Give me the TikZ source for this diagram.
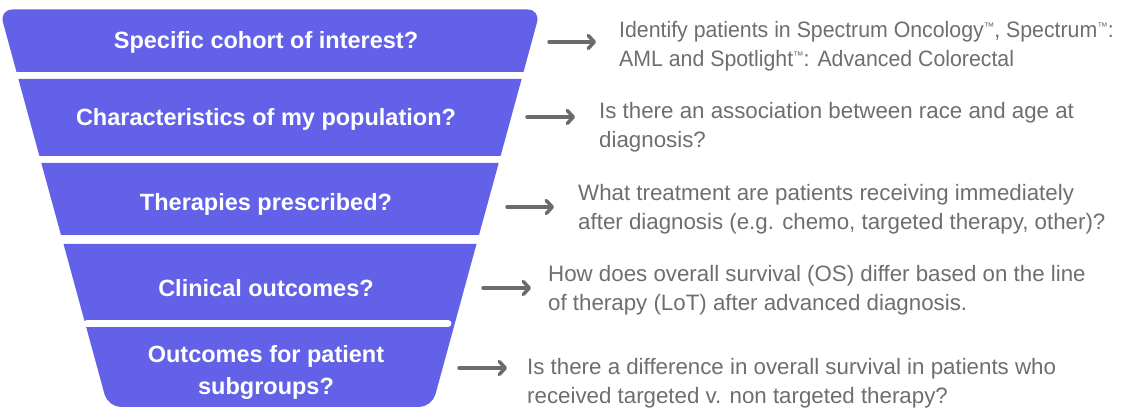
\documentclass[tikz,border=0pt]{standalone}
\usepackage{fontspec}
\setmainfont{Liberation Sans}
\usetikzlibrary{arrows.meta}
\definecolor{funnel}{RGB}{98,97,232}
\definecolor{txtgray}{RGB}{110,110,110}
\definecolor{arrgray}{RGB}{107,107,107}
\newcommand\tmk{\raisebox{7pt}{\fontsize{11pt}{11pt}\selectfont ™}}
\begin{document}
\begin{tikzpicture}[x=1pt,y=-1pt,
  band/.style={fill=funnel},
  lbl/.style={text=white, font=\fontsize{23.5pt}{32pt}\selectfont\bfseries, align=center, inner sep=0pt, anchor=base},
  desc/.style={text=txtgray, font=\fontsize{22.3pt}{29.5pt}\selectfont, align=left, inner sep=0pt, anchor=base west},
  arr/.style={draw=arrgray, line width=3.5pt, line cap=round, -{Straight Barb[length=6pt,width=13pt,round]}}]
\useasboundingbox (0,0) rectangle (1125,411);
% funnel bands
\fill[band] (16.5,72) [rounded corners=13pt] -- (-0.5,9.5) -- (540.5,9.5) [sharp corners] -- (523.5,72) -- cycle;
\fill[band] (18.4,79) -- (521.6,79) -- (500.6,156) -- (39.4,156) -- cycle;
\fill[band] (41.3,163) -- (498.7,163) -- (479.0,235) -- (61.0,235) -- cycle;
\fill[band] (476.5,244) [rounded corners=13pt] -- (432,407) -- (108,407) [sharp corners] -- (63.5,244) -- cycle;
\coordinate (b1) at (87,323.5);
\coordinate (b2) at (448,323.5);
\draw[white, line width=7pt, line cap=round] (b1) -- (b2);
% funnel labels (base = baseline of last line)
\node[lbl] (l1) at (266,48.5) {Specific cohort of interest?};
\node[lbl] (l2) at (266,125.5) {Characteristics of my population?};
\node[lbl] (l3) at (266,210.5) {Therapies prescribed?};
\node[lbl] (l4) at (266,296.5) {Clinical outcomes?};
\node[lbl] (l5) at (266,395) {Outcomes for patient\\subgroups?};
% descriptions
\node[desc, font=\fontsize{22.3pt}{29.5pt}\selectfont\addfontfeature{FakeStretch=0.955}] (t1) at (619,67) {Identify patients in Spectrum Oncology\tmk, Spectrum\tmk:\\AML and Spotlight\tmk: Advanced Colorectal};
\node[desc] (t2) at (599,148) {Is there an association between race and age at\\diagnosis?};
\node[desc] (t3) at (578,230) {What treatment are patients receiving immediately\\after diagnosis (e.g. chemo, targeted therapy, other)?};
\node[desc] (t4) at (548,311) {How does overall survival (OS) differ based on the line\\of therapy (LoT) after advanced diagnosis.};
\node[desc] (t5) at (527,404) {Is there a difference in overall survival in patients who\\received targeted v. non targeted therapy?};
% arrows
\coordinate (a1s) at (549,42);  \coordinate (a1e) at (596,42);
\coordinate (a2s) at (527,117); \coordinate (a2e) at (575,117);
\coordinate (a3s) at (507,207); \coordinate (a3e) at (554,207);
\coordinate (a4s) at (483,288); \coordinate (a4e) at (531,288);
\coordinate (a5s) at (459,368); \coordinate (a5e) at (507,368);
\draw[arr] (a1s) -- (a1e);
\draw[arr] (a2s) -- (a2e);
\draw[arr] (a3s) -- (a3e);
\draw[arr] (a4s) -- (a4e);
\draw[arr] (a5s) -- (a5e);
\end{tikzpicture}
\end{document}
